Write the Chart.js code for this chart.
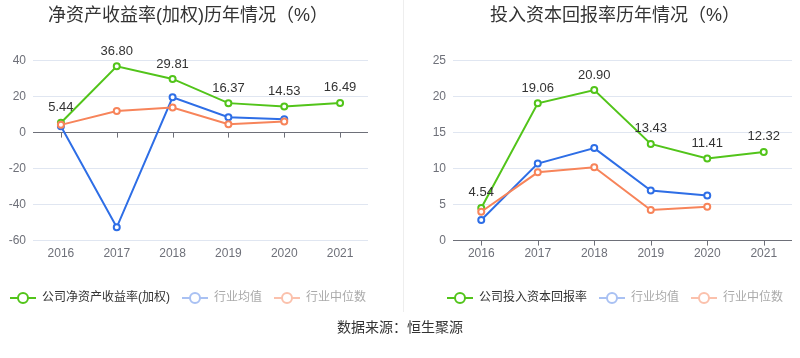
<!DOCTYPE html>
<html>
<head>
<meta charset="utf-8">
<script src="https://cdn.jsdelivr.net/npm/chart.js@4/dist/chart.umd.min.js"></script>
<style>
body{margin:0;background:#fff;width:800px;height:358px;position:relative;overflow:hidden;
font-family:"Liberation Sans","Noto Sans CJK SC",sans-serif;}
.box{position:absolute;top:0;height:320px;}
#sep{position:absolute;left:403px;top:0;width:1px;height:312px;background:#eeeeee;}
#src{position:absolute;left:0;width:800px;top:316px;text-align:center;font-size:14px;color:#333;}
</style>
</head>
<body>
<div class="box" style="left:-12px;width:400px"><canvas id="roeChart"></canvas></div>
<div id="sep"></div>
<div class="box" style="left:430px;width:370px"><canvas id="roicChart"></canvas></div>
<div id="src">数据来源：恒生聚源</div>
<script>
const years = ["2016","2017","2018","2019","2020","2021"];

const roeCompany = [5.44, 36.80, 29.81, 16.37, 14.53, 16.49];
const roeIndustryAvg = [3.5, -52.6, 19.6, 8.5, 7.4, null];
const roeIndustryMid = [4.3, 12.0, 13.9, 4.6, 6.1, null];

const roicCompany = [4.54, 19.06, 20.90, 13.43, 11.41, 12.32];
const roicIndustryAvg = [2.85, 10.7, 12.85, 6.95, 6.26, null];
const roicIndustryMid = [4.0, 9.48, 10.2, 4.24, 4.7, null];

const GREEN = "#52c41a";
const BLUE = "#2e6ee6";
const ORANGE = "#f7845a";
const FONT = "'Liberation Sans','Noto Sans CJK SC',sans-serif";

function legendIcon(color){
  const c = document.createElement("canvas");
  c.width = 26; c.height = 14;
  const g = c.getContext("2d");
  g.strokeStyle = color; g.lineWidth = 2;
  g.beginPath(); g.moveTo(0,7); g.lineTo(26,7); g.stroke();
  g.fillStyle = "#fff";
  g.beginPath(); g.arc(13,7,5,0,Math.PI*2); g.fill(); g.stroke();
  return c;
}

const icons = [legendIcon(GREEN), legendIcon("#a9c1f3"), legendIcon("#fbc1ac")];
const legendColors = ["#333333", "#aaaaaa", "#aaaaaa"];

// value labels above company series + small ticks on the zero line
const extras = {
  id:"extras",
  afterDatasetsDraw(chart){
    const ctx = chart.ctx;
    const meta = chart.getDatasetMeta(0);
    const data = chart.data.datasets[0].data;
    ctx.save();
    ctx.font = "13px " + FONT;
    ctx.fillStyle = "#333";
    ctx.textAlign = "center";
    ctx.textBaseline = "middle";
    meta.data.forEach((pt,i)=>{
      ctx.fillText(data[i].toFixed(2), pt.x, pt.y - 15);
    });
    const x = chart.scales.x;
    const y0 = chart.scales.y.getPixelForValue(0);
    ctx.strokeStyle = "#6e7079";
    ctx.lineWidth = 1;
    ctx.beginPath();
    for(let i=0;i<years.length;i++){
      const px = Math.round(x.getPixelForTick(i)) + 0.5;
      ctx.moveTo(px, y0); ctx.lineTo(px, y0 + 5);
    }
    ctx.stroke();
    ctx.restore();
  }
};

function series(label, data, color, order){
  return {
    label:label,
    data:data,
    borderColor:color,
    backgroundColor:color,
    borderWidth:2,
    pointRadius:3,
    pointBorderWidth:2,
    pointBackgroundColor:"#fff",
    pointBorderColor:color,
    tension:0,
    order:order
  };
}

function makeChart(id, title, names, company, avg, mid, yMin, yMax, step, leftW, rightW){
  return new Chart(document.getElementById(id),{
    type:"line",
    data:{
      labels:years,
      datasets:[
        series(names[0], company, GREEN, 3),
        series(names[1], avg, BLUE, 2),
        series(names[2], mid, ORANGE, 1)
      ]
    },
    options:{
      responsive:true,
      maintainAspectRatio:false,
      animation:false,
      layout:{padding:{bottom:6}},
      scales:{
        x:{
          offset:true,
          grid:{display:false, drawTicks:false},
          border:{display:false},
          ticks:{color:"#6e7079", font:{size:12, family:FONT}, padding:6},
          afterFit(scale){ scale.height += 13; }
        },
        y:{
          min:yMin, max:yMax,
          border:{display:false},
          grid:{
            drawTicks:false,
            color:c=>c.tick.value===0 ? "#6e7079" : "#e0e6f1"
          },
          ticks:{stepSize:step, color:"#6e7079", font:{size:12, family:FONT}, padding:7},
          afterFit(scale){ scale.width = leftW; }
        },
        yR:{
          position:"right",
          grid:{display:false},
          border:{display:false},
          ticks:{display:false},
          afterFit(scale){ scale.width = rightW; }
        }
      },
      plugins:{
        title:{
          display:true,
          text:title,
          color:"#333",
          font:{size:18, weight:"normal", family:FONT},
          padding:{top:5, bottom:34}
        },
        legend:{
          position:"bottom",
          labels:{
            usePointStyle:true,
            pointStyleWidth:26,
            padding:12,
            font:{size:12, family:FONT},
            sort:(a,b)=>a.datasetIndex-b.datasetIndex,
            generateLabels(chart){
              const items = Chart.defaults.plugins.legend.labels.generateLabels(chart);
              items.forEach(it=>{
                it.pointStyle = icons[it.datasetIndex];
                it.fontColor = legendColors[it.datasetIndex];
              });
              return items;
            }
          }
        },
        tooltip:{enabled:false}
      }
    },
    plugins:[extras]
  });
}

makeChart("roeChart", "净资产收益率(加权)历年情况（%）",
  ["公司净资产收益率(加权)","行业均值","行业中位数"],
  roeCompany, roeIndustryAvg, roeIndustryMid, -60, 40, 20, 45, 20);

makeChart("roicChart", "投入资本回报率历年情况（%）",
  ["公司投入资本回报率","行业均值","行业中位数"],
  roicCompany, roicIndustryAvg, roicIndustryMid, 0, 25, 5, 23, 8);
</script>
</body>
</html>
